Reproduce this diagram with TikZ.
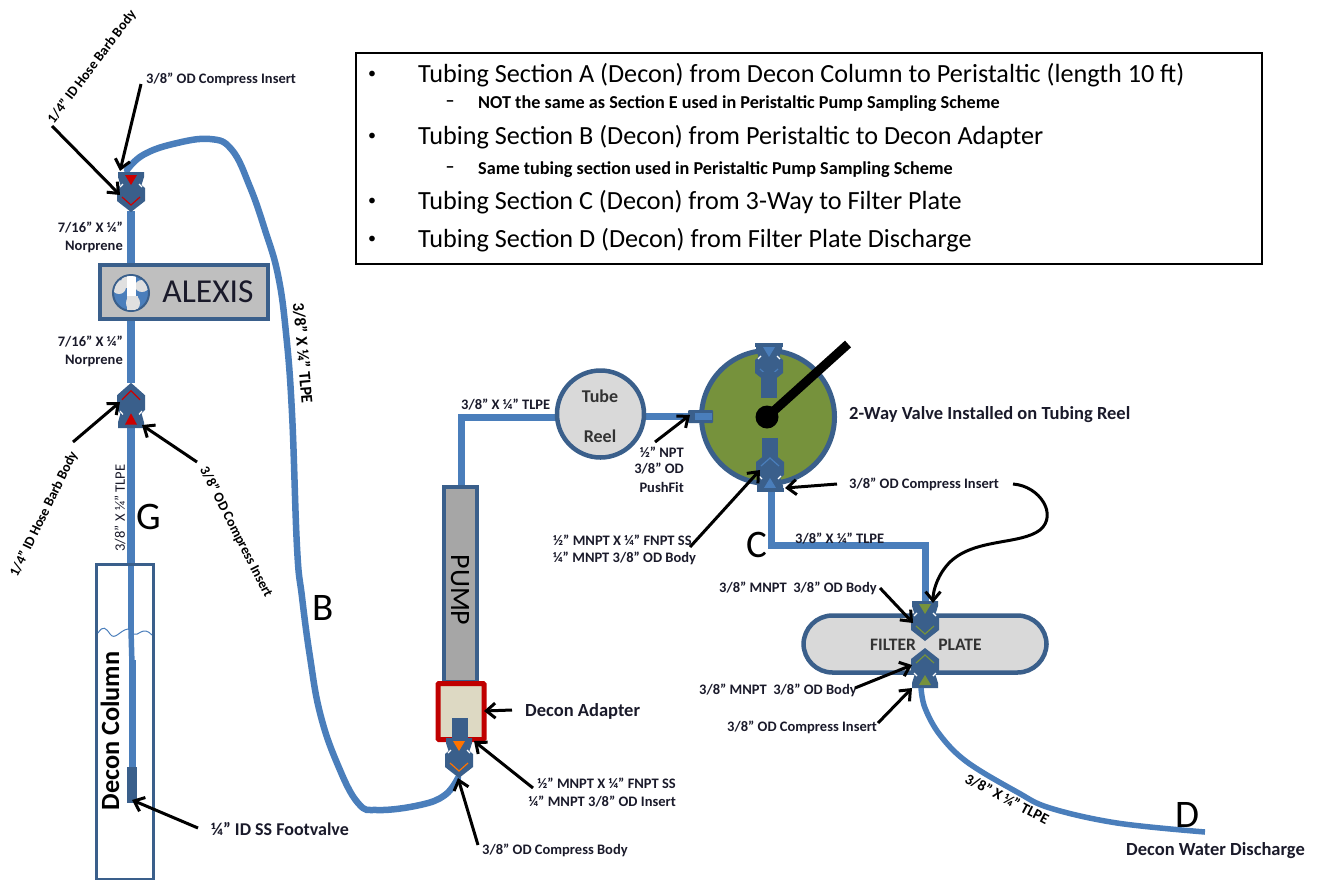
\documentclass[tikz,border=0pt]{standalone}
\usepackage{fontspec}
\setmainfont{Carlito}
\usetikzlibrary{arrows.meta}
\definecolor{tube}{HTML}{4A7EBB}
\definecolor{dkblue}{HTML}{3A5F8B}
\definecolor{olive}{HTML}{76923C}
\definecolor{lbl}{HTML}{1A1A2A}
\definecolor{redd}{HTML}{C00000}
\definecolor{tan}{HTML}{DDD9C3}
\tikzset{
  x=1pt,y=-1pt,
  tubing/.style={draw=tube,line width=7pt,line join=miter},
  tubethin/.style={draw=tube,line width=6pt},
  lab/.style={inner sep=0pt,font=\fontsize{14.5}{14.5}\selectfont\bfseries,text=lbl},
  labr/.style={lab,anchor=east},
  labl/.style={lab,anchor=west},
  big/.style={inner sep=0pt,font=\fontsize{39}{39}\selectfont,text=black},
  mid/.style={labl,font=\fontsize{18.5}{18.5}\selectfont\bfseries},
  rotl/.style={inner sep=0pt,font=\fontsize{14}{14}\selectfont\bfseries,text=black},
  pt/.style={draw=black,line width=3pt,-{Straight Barb[length=9pt,width=15pt,line width=3pt]}},
  main/.style={inner sep=0pt,anchor=west,font=\fontsize{26.2}{26.2}\selectfont,text=black},
  sub/.style={inner sep=0pt,anchor=west,font=\fontsize{18.2}{18.2}\selectfont\bfseries,text=black},
  fitting/.pic={
    \fill[dkblue] (-13,0)--(13,0)--(13,5)--(10.5,13)--(14,16)--(14,29)--(0,40)--(-14,29)--(-14,16)--(-10.5,13)--(-13,5)--cycle;
    \fill[#1] (-6,3)--(6,3)--(0,13)--cycle;
    \draw[#1,line width=1.2pt] (-9,25)--(0,33)--(9,25);
    \draw[white,line width=1.2pt] (-11,15)--(-8,12) (11,15)--(8,12);
  }
}
\begin{document}
\begin{tikzpicture}
\useasboundingbox (0,0) rectangle (1319,879);
% legend
\node[draw=black,line width=1.5pt,minimum width=906pt,minimum height=211pt,anchor=north west,inner sep=0pt] (legend) at (355,52) {};
\foreach \n/\y in {a/75,b/137,c/202,d/240}{\node[inner sep=0pt,font=\fontsize{16}{16}\selectfont] (bul\n) at (372,\y) {•};}
\foreach \n/\y in {a/104,b/170}{\node[inner sep=0pt,font=\fontsize{18}{18}\selectfont\bfseries] (dash\n) at (450,\y) {–};}
\node[main] (ta) at (418,75) {Tubing Section A (Decon) from Decon Column to Peristaltic (length 10 ft)};
\node[sub] (tas) at (478,104) {NOT the same as Section E used in Peristaltic Pump Sampling Scheme};
\node[main] (tb) at (418,137) {Tubing Section B (Decon) from Peristaltic to Decon Adapter};
\node[sub] (tbs) at (478,170) {Same tubing section used in Peristaltic Pump Sampling Scheme};
\node[main] (tc) at (418,202) {Tubing Section C (Decon) from 3-Way to Filter Plate};
\node[main] (td) at (418,240) {Tubing Section D (Decon) from Filter Plate Discharge};

% anchors
\coordinate (topfit) at (131,172);
\coordinate (topfitb) at (131,211);
\coordinate (lowfit) at (131,383);
\coordinate (lowfitb) at (131,428);
\coordinate (footv) at (132,767);
\coordinate (pumpfit) at (458,778);

% tube B
\draw[tubing,line width=6.5pt,line cap=round] plot[smooth,tension=0.7] coordinates {(127,170) (143,155) (173,144) (210,139) (232,150) (250,187) (265,230) (278,275) (286,333) (292,413) (297,547) (302,597) (310,657) (320,713) (337,763) (358,803) (378,810) (420,805) (445,795) (pumpfit)};
% column tube
\draw[tubing,line width=8pt] (topfitb)--(131,264);
\draw[tubing,line width=8pt] (131,320)--(lowfit);
\draw[tubing,line width=8pt] (lowfitb)--(131,566);
\draw[tubethin] (131,566)--(131,630);
\draw[tube,line width=7pt] (132,660)--(footv);
\draw[tube,line width=5.5pt] (131,630)--(132,665);
\fill[dkblue] (127,767) rectangle (137,803);
% column
\node[draw=dkblue,line width=3pt,minimum width=57pt,minimum height=315pt,anchor=north west,inner sep=0pt] (column) at (95,563) {};
\draw[tube,line width=1pt] (98,633) .. controls (103,625) and (106,628) .. (110,634) .. controls (115,641) and (120,630) .. (128,629);
\draw[tube,line width=1pt] (134,634) .. controls (138,637) and (143,625) .. (152,635);
\node[inner sep=0pt,rotate=90,font=\fontsize{26.3}{26.3}\selectfont\bfseries,text=black] (decon) at (110,731) {Decon Column};
% fittings left
\pic at (topfit) {fitting=red!80!black};
\pic[yscale=-1.13] at (lowfitb) {fitting=red!80!black};
% Alexis
\node[draw=dkblue,line width=4.5pt,fill=black!25,minimum width=168pt,minimum height=54pt,anchor=north west,inner sep=0pt] (alexis) at (97.5,262.5) {};
\begin{scope}
\fill[tube,draw=dkblue,line width=2pt] (131,293) circle (18);
\clip (131,293) circle (17);
\fill[black!12] (119,287) circle (7) (127,282) ellipse (6 and 6) (142,286) ellipse (7 and 6) (133,303) ellipse (7 and 8);
\fill[white] (127,274) rectangle (136,312);
\fill[black!12] (127,296) rectangle (138,312);
\end{scope}
\node[inner sep=0pt,font=\fontsize{33.5}{33.5}\selectfont,text=lbl] (alexist) at (208,292) {ALEXIS};
% pump
\coordinate (pumptop) at (461,487);
\coordinate (reelw) at (556,417);
\coordinate (reele) at (645,416);
\coordinate (portw) at (690,416);
\draw[tubing] (pumptop)--(461,417)--(reelw);
\draw[tubing] (reele)--(portw);
\node[draw=dkblue,line width=3.5pt,fill=black!35,minimum width=33pt,minimum height=195pt,anchor=north west,inner sep=0pt] (pump) at (442,485) {};
\node[inner sep=0pt,rotate=-90,font=\fontsize{28}{28}\selectfont,text=black] (pumpt) at (460,590) {PUMP};
\node[draw=redd,line width=5pt,fill=tan,minimum width=46pt,minimum height=56pt,anchor=north west,inner sep=0pt,rounded corners=1pt] (adapter) at (435.5,681) {};
\fill[dkblue] (452,718) rectangle (468,741);
\pic at (459,738) {fitting=orange!90!red};
% reel
\node[circle,draw=dkblue,line width=4.5pt,fill=black!15,minimum size=87pt,inner sep=0pt] (reel) at (600.5,414) {};
\node[inner sep=0pt,font=\fontsize{18}{18}\selectfont\bfseries,text=black!80] (tubet) at (600,396) {Tube};
\node[inner sep=0pt,font=\fontsize{18}{18}\selectfont\bfseries,text=black!80] (reelt) at (600,436) {Reel};
% valve
\node[circle,draw=dkblue,line width=5pt,fill=olive,minimum size=133pt,inner sep=0pt] (valve) at (768,417) {};
\fill[dkblue,rounded corners=1pt] (688,410) rectangle (713,423);
\fill[tube] (695,413) rectangle (712,420);
\pic at (769,344) {fitting=tube};
\fill[dkblue] (761,372) rectangle (777,398);
\fill[dkblue] (762,438) rectangle (778,465);
\pic[yscale=-1] at (770,491) {fitting=tube};
\fill[dkblue] (755,343) rectangle (783,347);
\fill[dkblue] (757,488) rectangle (784,492);
\coordinate (handle) at (848,344);
\draw[black,line width=9pt] (767,417)--(handle);
\node[circle,fill=black,minimum size=23pt,inner sep=0pt] (hub) at (767,417) {};
% C tube
\coordinate (cstart) at (771,492);
\coordinate (filtertop) at (925,601);
\draw[tubing] (cstart)--(771,545)--(925,545)--(filtertop);
% filter plate
\node[rounded corners=29pt,draw=dkblue,line width=4.5pt,fill=black!15,minimum width=243pt,minimum height=57pt,inner sep=0pt] (plate) at (925,644) {};
\pic at (filtertop) {fitting=olive};
\pic[yscale=-1] at (925,688) {fitting=olive};
\node[inner sep=0pt,font=\fontsize{17.5}{17.5}\selectfont\bfseries,text=black!80] (filter) at (893,645) {FILTER};
\node[inner sep=0pt,font=\fontsize{17.5}{17.5}\selectfont\bfseries,text=black!80] (platet) at (960,645) {PLATE};
% D tube
\coordinate (dstart) at (921,688);
\coordinate (dend) at (1205,832);
\draw[tubing,line width=5.5pt] plot[smooth,tension=0.6] coordinates {(dstart) (925,708) (940,735) (967,762) (1017,792) (1050,808) (1117,823) (dend)};

% big letters
\node[big] (G) at (149,517) {G};
\node[big] (B) at (323,608) {B};
\node[big] (C) at (757,545) {C};
\node[big] (D) at (1187,815) {D};

% labels
\node[labl] (l1) at (146,79) {3/8” OD Compress Insert};
\node[labr] (l2) at (123,228) {7/16” X ¼”};
\node[labr] (l3) at (123,247) {Norprene};
\node[labr] (l4) at (123,342) {7/16” X ¼”};
\node[labr] (l5) at (123,361) {Norprene};
\node[rotl,rotate=53] (r1) at (92,67) {1/4” ID Hose Barb Body};
\node[rotl,rotate=64] (r2) at (44,514) {1/4” ID Hose Barb Body};
\node[rotl,rotate=-63] (r3) at (236,532) {3/8” OD Compress Insert};
\node[inner sep=0pt,rotate=90,font=\fontsize{14.5}{14.5}\selectfont,text=lbl] (r4) at (120,508) {3/8” X ¼” TLPE};
\node[rotl,rotate=-85,font=\fontsize{16.5}{16.5}\selectfont\bfseries] (r5) at (303,353) {3/8” X ¼” TLPE};
\node[rotl,rotate=-27.5,font=\fontsize{15}{15}\selectfont\bfseries] (r6) at (1007,799) {3/8” X ¼” TLPE};
\node[labl,font=\fontsize{18}{18}\selectfont\bfseries] (l6) at (211,829) {¼” ID SS Footvalve};
\node[mid] (l7) at (525,711) {Decon Adapter};
\node[labr] (l8) at (676,783) {½” MNPT X ¼” FNPT SS};
\node[labr] (l9) at (676,802) {¼” MNPT 3/8” OD Insert};
\node[labl] (l10) at (482,850) {3/8” OD Compress Body};
\node[labl] (l11) at (461,405) {3/8” X ¼” TLPE};
\node[labr] (l12) at (684,452) {½” NPT};
\node[labr] (l13) at (684,469) {3/8” OD};
\node[labr] (l14) at (684,487) {PushFit};
\node[labl] (l15) at (553,540) {½” MNPT X ¼” FNPT SS};
\node[labl] (l16) at (553,558) {¼” MNPT 3/8” OD Body};
\node[mid] (l17) at (849,415) {2-Way Valve Installed on Tubing Reel};
\node[labl] (l18) at (849,484) {3/8” OD Compress Insert};
\node[labl] (l19) at (795,539) {3/8” X ¼” TLPE};
\node[labl] (l20) at (719,588) {3/8” MNPT\ \ 3/8” OD Body};
\node[labl] (l21) at (699,690) {3/8” MNPT\ \ 3/8” OD Body};
\node[labl] (l22) at (727,727) {3/8” OD Compress Insert};
\node[mid] (l23) at (1126,851) {Decon Water Discharge};

% arrows
\coordinate (p1) at (52,126);
\coordinate (p3) at (73,442);
\coordinate (p4) at (197,462);
\coordinate (p5) at (198,828);
\coordinate (p6) at (512,710);
\coordinate (p7) at (533,788);
\coordinate (p8) at (478,845);
\coordinate (p9) at (655,442);
\coordinate (p10) at (690,547);
\coordinate (p11) at (837,484);
\coordinate (p12) at (1013,484);
\coordinate (p13) at (880,588);
\coordinate (p14) at (855,688);
\coordinate (p15) at (878,723);
\coordinate (p2) at (141,84);
\draw[pt] (p1)--(120,195);
\draw[pt] (p2)--(120,171);
\draw[pt] (p3)--(120,402);
\draw[pt] (p4)--(142,425);
\draw[pt] (p5)--(132,800);
\draw[pt] (p6)--(484,711);
\draw[pt] (p7)--(474,741);
\draw[pt] (p8)--(458,778);
\draw[pt] (p9)--(690,415);
\draw[pt] (p10)--(760,470);
\draw[pt] (p11)--(785,488);
\draw[pt] (p12) .. controls (1040,486) and (1058,515) .. (1040,530) .. controls (1020,545) and (975,538) .. (950,562) .. controls (938,574) and (933,590) .. (933,603);
\draw[pt] (p13)--(913,623);
\draw[pt] (p14)--(912,665);
\draw[pt] (p15)--(912,688);
\end{tikzpicture}
\end{document}
